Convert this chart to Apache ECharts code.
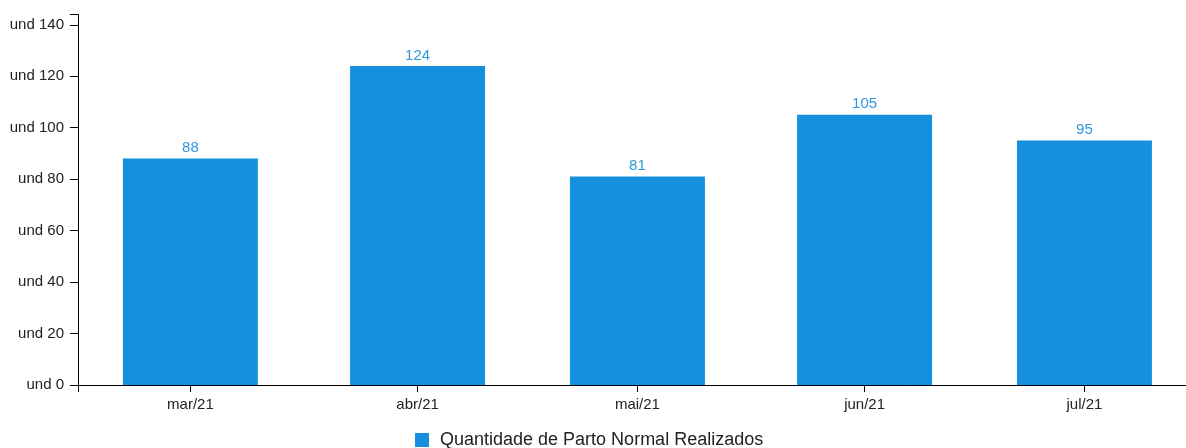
<!DOCTYPE html>
<html>
<head>
<meta charset="utf-8">
<script src="https://cdn.jsdelivr.net/npm/echarts@6/dist/echarts.min.js"></script>
<style>
html,body{margin:0;padding:0;background:#fff;}
#chart{width:1186px;height:448px;}
</style>
</head>
<body>
<div id="chart"></div>
<script>
const dates = ['2021-03-01', '2021-04-01', '2021-05-01', '2021-06-01', '2021-07-01'];
const tickLabels = ['mar/21', 'abr/21', 'mai/21', 'jun/21', 'jul/21'];
const values = [88, 124, 81, 105, 95];
const seriesName = 'Quantidade de Parto Normal Realizados';
const yUnit = 'und';

const DAY = 86400000;
const ts = dates.map(d => Date.parse(d + 'T00:00:00Z'));
const xMin = ts[0] - 15.34 * DAY;
const xMax = ts[ts.length - 1] + 13.86 * DAY;
const FONT = '"Liberation Sans", Arial, sans-serif';

const chart = echarts.init(document.getElementById('chart'), null, {renderer: 'canvas'});
chart.setOption({
  animation: false,
  grid: {left: 78, right: 0, top: 14.5, bottom: 63, containLabel: false},
  legend: {
    data: [seriesName],
    top: 426,
    left: 410,
    itemWidth: 14,
    itemHeight: 14,
    itemGap: 10,
    icon: 'rect',
    textStyle: {fontFamily: FONT, fontSize: 18, color: '#222', padding: [0, 0, 0, 6]}
  },
  xAxis: {
    type: 'value',
    min: xMin,
    max: xMax,
    splitLine: {show: false},
    axisLine: {show: true, onZero: false, lineStyle: {color: '#000', width: 1}},
    axisTick: {show: true, length: 7, customValues: [xMin].concat(ts), lineStyle: {color: '#000'}},
    axisLabel: {
      customValues: ts,
      margin: 12,
      fontFamily: FONT, fontSize: 15, color: '#222',
      formatter: v => { const i = ts.indexOf(v); return i >= 0 ? tickLabels[i] : ''; }
    }
  },
  yAxis: {
    type: 'value',
    min: 0,
    max: 144,
    interval: 20,
    splitLine: {show: false},
    axisLine: {show: true, lineStyle: {color: '#000', width: 1}},
    axisTick: {show: true, length: 8, lineStyle: {color: '#000'}},
    axisLabel: {
      margin: 14,
      fontFamily: FONT, fontSize: 15, color: '#222',
      formatter: v => (v % 20 === 0 ? yUnit + ' ' + v : '')
    }
  },
  series: [{
    name: seriesName,
    type: 'bar',
    barWidth: 135,
    data: values.map((v, i) => [ts[i], v]),
    itemStyle: {color: '#1490de'},
    label: {show: true, position: 'top', distance: 3, color: '#2f97e0', fontFamily: FONT, fontSize: 15}
  }]
});
</script>
</body>
</html>
